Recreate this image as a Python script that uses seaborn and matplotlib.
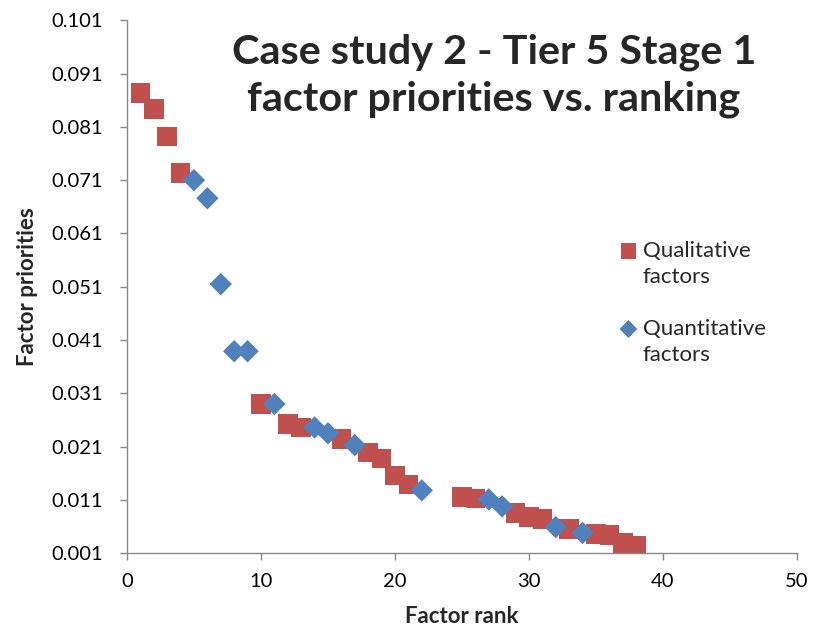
import matplotlib
matplotlib.use("Agg")
import matplotlib.pyplot as plt
import seaborn as sns
import pandas as pd

qual_rank = [1, 2, 3, 4, 10, 12, 13, 16, 18, 19, 20, 21, 25, 26, 29, 30, 31, 33, 35, 36, 37, 38]
qual_prio = [0.0873, 0.0843, 0.0792, 0.0723, 0.0290, 0.0252, 0.0246, 0.0224, 0.0199, 0.0188,
             0.0156, 0.0139, 0.0115, 0.0113, 0.0085, 0.0078, 0.0074, 0.0055, 0.0046, 0.0044,
             0.0029, 0.0023]
quant_rank = [5, 6, 7, 8, 9, 11, 14, 15, 17, 22, 27, 28, 32, 34]
quant_prio = [0.0710, 0.0676, 0.0515, 0.0389, 0.0389, 0.0290, 0.0246, 0.0235, 0.0213, 0.0128,
              0.0111, 0.0098, 0.0059, 0.0048]
y_ticks = [0.001, 0.011, 0.021, 0.031, 0.041, 0.051, 0.061, 0.071, 0.081, 0.091, 0.101]
x_ticks = [0, 10, 20, 30, 40, 50]

sns.set_style("white")
plt.rcParams['font.family'] = ['Lato', 'DejaVu Sans']

df_q = pd.DataFrame({"rank": qual_rank, "prio": qual_prio})
df_n = pd.DataFrame({"rank": quant_rank, "prio": quant_prio})

fig = plt.figure(figsize=(8.14, 6.33), dpi=100)
ax = fig.add_axes([0.156, 0.126, 0.823, 0.842])

sns.scatterplot(data=df_q, x="rank", y="prio", ax=ax, marker="s", s=200, color="#C0504D",
                edgecolor="none", linewidth=0, label="Qualitative\nfactors", zorder=2)
sns.scatterplot(data=df_n, x="rank", y="prio", ax=ax, marker="D", s=130, color="#4F81BD",
                edgecolor="none", linewidth=0, label="Quantitative\nfactors", zorder=3)

ax.set_xlim(0, 50)
ax.set_ylim(0.001, 0.101)
ax.set_xticks(x_ticks)
ax.set_yticks(y_ticks)
ax.set_yticklabels([f"{v:.3f}" for v in y_ticks])
ax.tick_params(axis="both", direction="out", length=5, width=1, color="#888888",
               labelsize=14.5, labelcolor="black", bottom=True, left=True)
ax.tick_params(axis="y", pad=12)
ax.tick_params(axis="x", pad=9)
for side in ["top", "right"]:
    ax.spines[side].set_visible(False)
for side in ["left", "bottom"]:
    ax.spines[side].set_color("#888888")
    ax.spines[side].set_linewidth(1)

ax.set_xlabel("Factor rank", fontsize=16, fontweight="bold", labelpad=12)
ax.set_ylabel("Factor priorities", fontsize=16, fontweight="bold", labelpad=10)

fig.text(0.607, 0.880, "Case study 2 - Tier 5 Stage 1\nfactor priorities vs. ranking",
         ha="center", va="center", fontsize=29.8, fontweight="bold", linespacing=1.33)

leg = ax.legend(loc="upper left", bbox_to_anchor=(0.702, 0.623), frameon=False, fontsize=16,
                labelspacing=1.43, handletextpad=0.15, handlelength=1.0, markerscale=0.8)
for t in leg.get_texts():
    t.set_linespacing(1.38)
for h in leg.legend_handles:
    offs = h.get_offsets()
    offs[:, 1] += 11
    h.set_offsets(offs)

fig.savefig("out.png", dpi=100)
